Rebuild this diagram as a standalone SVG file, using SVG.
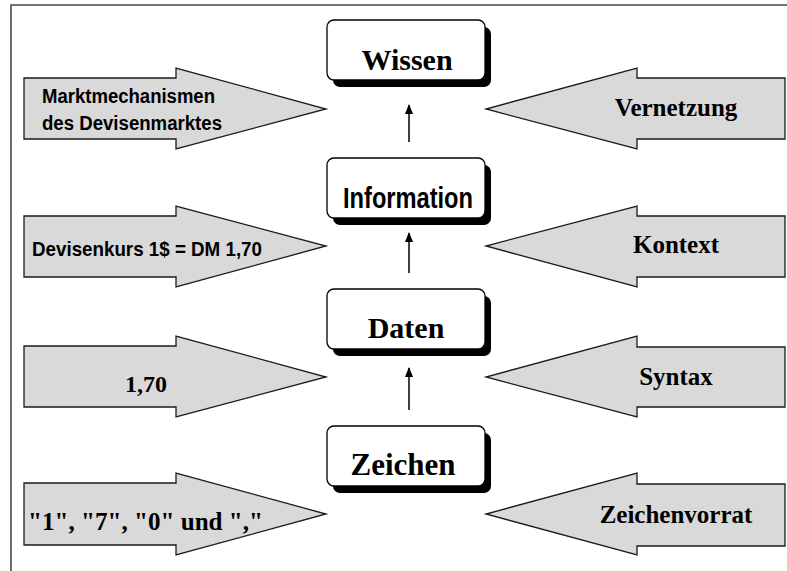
<svg xmlns="http://www.w3.org/2000/svg" width="787" height="571" viewBox="0 0 787 571">
  <style>
    .frame { fill: none; stroke: #4a4a4a; stroke-width: 1.6; }
    .big-arrow { fill: #d9d9d9; stroke: #1a1a1a; stroke-width: 1.3; stroke-linejoin: miter; }
    .box { fill: #ffffff; stroke: #000000; stroke-width: 1.3; }
    .shadow { fill: #000000; }
    .serif { font-family: "Liberation Serif", "Times New Roman", serif; font-weight: bold; fill: #000; }
    .sans { font-family: "Liberation Sans", Arial, sans-serif; font-weight: bold; fill: #000; }
    .link { stroke: #000; stroke-width: 1.5; fill: none; }
  </style>
  <defs>
    <marker id="head" viewBox="0 0 10 8" refX="9" refY="4" markerWidth="10" markerHeight="8" markerUnits="userSpaceOnUse" orient="auto">
      <path d="M0,0 L10,4 L0,8 z" fill="#000"/>
    </marker>
    <rect id="card" x="0" y="0" width="158" height="60" rx="7" ry="7"/>
  </defs>

  <!-- frame (top and left edges) -->
  <path class="frame" d="M11,575 L11,5 L790,5"/>

  <!-- left input arrows -->
  <g id="in-markt">
    <polygon class="big-arrow" points="24,78 176,78 176,68 326,109 176,149 176,139 24,139"/>
    <text class="sans" x="42" y="103" font-size="20" textLength="173" lengthAdjust="spacingAndGlyphs">Marktmechanismen</text>
    <text class="sans" x="42" y="130" font-size="20" textLength="180" lengthAdjust="spacingAndGlyphs">des Devisenmarktes</text>
  </g>
  <g id="in-kurs">
    <polygon class="big-arrow" points="24,216 176,216 176,206 326,246 176,287 176,277 24,277"/>
    <text class="sans" x="32" y="256" font-size="21" textLength="230" lengthAdjust="spacingAndGlyphs">Devisenkurs 1$ = DM 1,70</text>
  </g>
  <g id="in-zahl">
    <polygon class="big-arrow" points="24,346 176,346 176,336 326,377 176,417 176,407 24,407"/>
    <text class="serif" x="125" y="392" font-size="24">1,70</text>
  </g>
  <g id="in-ziffern">
    <polygon class="big-arrow" points="24,483 176,483 176,473 326,514 176,555 176,545 24,545"/>
    <text class="serif" x="28" y="530" font-size="25" textLength="235" lengthAdjust="spacingAndGlyphs">"1", "7", "0" und ","</text>
  </g>

  <!-- right input arrows -->
  <g id="in-vernetzung">
    <polygon class="big-arrow" points="785,78 637,78 637,68 486,109 637,149 637,139 785,139"/>
    <text class="serif" x="676" y="116" font-size="25" text-anchor="middle">Vernetzung</text>
  </g>
  <g id="in-kontext">
    <polygon class="big-arrow" points="785,216 637,216 637,206 486,246 637,287 637,277 785,277"/>
    <text class="serif" x="676" y="253" font-size="25" text-anchor="middle">Kontext</text>
  </g>
  <g id="in-syntax">
    <polygon class="big-arrow" points="785,347 637,347 637,336 486,377 637,417 637,407 785,407"/>
    <text class="serif" x="676" y="385" font-size="25" text-anchor="middle">Syntax</text>
  </g>
  <g id="in-vorrat">
    <polygon class="big-arrow" points="785,484 637,484 637,473 486,514 637,555 637,546 785,546"/>
    <text class="serif" x="676" y="523" font-size="25" text-anchor="middle">Zeichenvorrat</text>
  </g>

  <!-- hierarchy levels -->
  <g id="wissen">
    <use href="#card" class="shadow" x="333" y="27"/>
    <use href="#card" class="box" x="327" y="20"/>
    <text class="serif" x="407" y="70" font-size="30" text-anchor="middle">Wissen</text>
  </g>
  <g id="information">
    <use href="#card" class="shadow" x="333" y="165"/>
    <use href="#card" class="box" x="327" y="158"/>
    <text class="sans" x="408" y="208" font-size="29" text-anchor="middle" textLength="130" lengthAdjust="spacingAndGlyphs">Information</text>
  </g>
  <g id="daten">
    <use href="#card" class="shadow" x="333" y="296"/>
    <use href="#card" class="box" x="327" y="289"/>
    <text class="serif" x="406" y="338" font-size="30" text-anchor="middle">Daten</text>
  </g>
  <g id="zeichen">
    <use href="#card" class="shadow" x="333" y="433"/>
    <use href="#card" class="box" x="327" y="426"/>
    <text class="serif" x="403" y="475" font-size="31" text-anchor="middle">Zeichen</text>
  </g>

  <!-- connectors between levels -->
  <g id="connectors">
    <line class="link" x1="409" y1="142" x2="409" y2="105" marker-end="url(#head)"/>
    <line class="link" x1="409" y1="273" x2="409" y2="233" marker-end="url(#head)"/>
    <line class="link" x1="409" y1="410" x2="409" y2="368" marker-end="url(#head)"/>
  </g>
</svg>
